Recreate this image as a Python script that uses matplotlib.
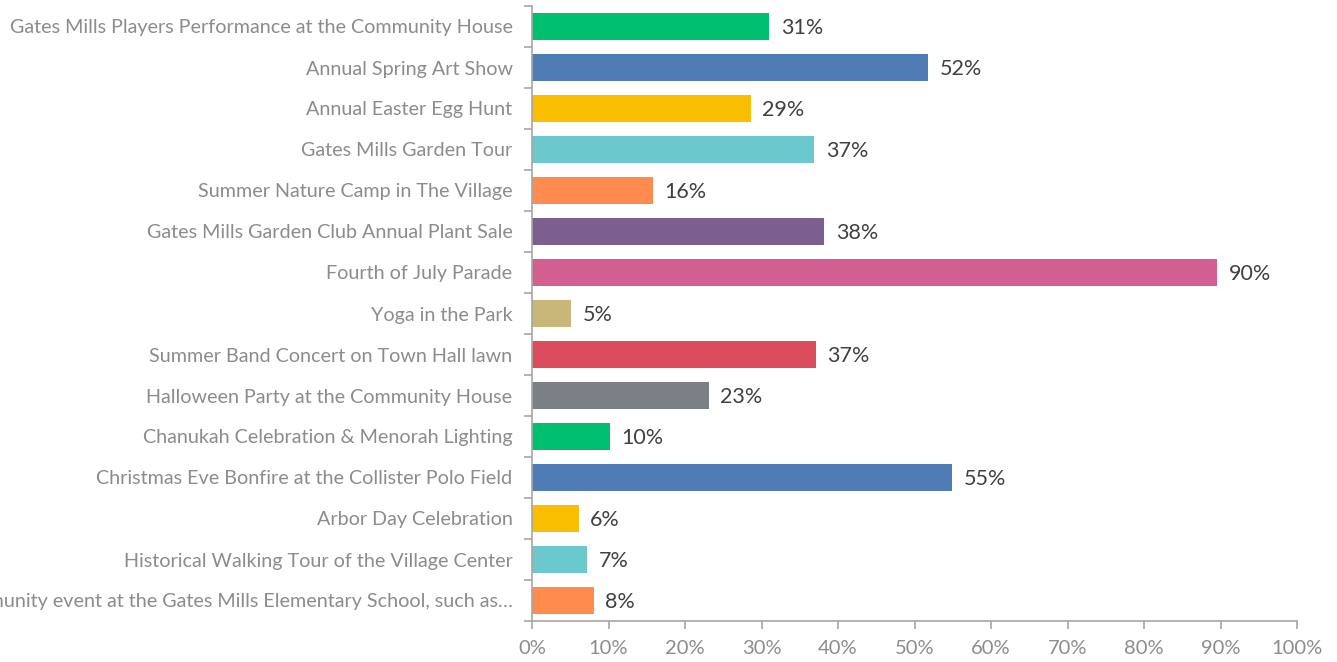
import matplotlib
matplotlib.use("Agg")
import matplotlib.pyplot as plt
from matplotlib.ticker import FixedLocator, PercentFormatter

plt.rcParams['font.family'] = ['Lato', 'DejaVu Sans']

categories = [
    "Gates Mills Players Performance at the Community House",
    "Annual Spring Art Show",
    "Annual Easter Egg Hunt",
    "Gates Mills Garden Tour",
    "Summer Nature Camp in The Village",
    "Gates Mills Garden Club Annual Plant Sale",
    "Fourth of July Parade",
    "Yoga in the Park",
    "Summer Band Concert on Town Hall lawn",
    "Halloween Party at the Community House",
    "Chanukah Celebration & Menorah Lighting",
    "Christmas Eve Bonfire at the Collister Polo Field",
    "Arbor Day Celebration",
    "Historical Walking Tour of the Village Center",
    "Community event at the Gates Mills Elementary School, such as\u2026",
]
values = [31.0, 51.8, 28.6, 36.9, 15.8, 38.2, 89.6, 5.1, 37.1, 23.1, 10.2, 54.9, 6.1, 7.2, 8.1]

palette = ["#00BF6F", "#507CB6", "#F9BE00", "#6BC8CD", "#FF8B4F",
           "#7D5E90", "#D25F90", "#C9B77A", "#DB4D5C", "#7A8085"]
colors = [palette[i % len(palette)] for i in range(len(categories))]

fig = plt.figure(figsize=(13.37, 6.62), dpi=100)
ax = fig.add_axes([532 / 1337, 41 / 662, (1297 - 532) / 1337, (621 - 6) / 662])

y = list(range(len(categories)))
ax.barh(y, values, height=0.68, color=colors)
ax.set_ylim(len(categories) - 0.5, -0.5)
ax.set_xlim(0, 100)

for yi, v in zip(y, values):
    ax.text(v + 1.5, yi + 0.04, f"{round(v)}%", va="center", ha="left",
            fontsize=15.5, color="#404040")

# category labels; the last one runs off the left edge, as in the original
ax.set_yticks(y)
ax.set_yticklabels(categories, fontsize=14.2, color="#8c8c8c")
ax.yaxis.set_minor_locator(FixedLocator([i - 0.5 for i in range(len(categories) + 1)]))
ax.tick_params(axis="y", which="major", length=0, pad=14)
ax.tick_params(axis="y", which="minor", length=6, color="#a6a6a6", width=1.2)

ax.set_xticks(range(0, 101, 10))
ax.xaxis.set_major_formatter(PercentFormatter(decimals=0))
ax.tick_params(axis="x", length=6, color="#a6a6a6", width=1.2,
               labelsize=14.5, labelcolor="#8c8c8c", pad=8)

for s in ["top", "right"]:
    ax.spines[s].set_visible(False)
for s in ["left", "bottom"]:
    ax.spines[s].set_color("#a6a6a6")
    ax.spines[s].set_linewidth(1.2)

fig.savefig("out.png", dpi=100)
